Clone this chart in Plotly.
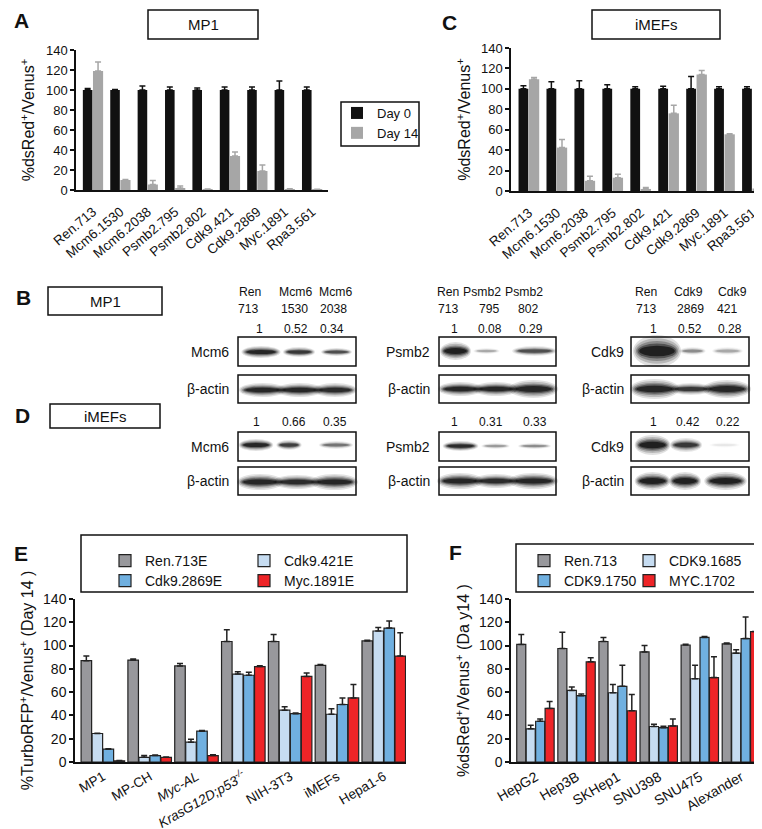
import plotly.graph_objects as go

W, H = 762, 829
def px(x): return x / W
def py(y): return 1 - y / H

# ---------------- data ----------------
a_labels = ["Ren.713", "Mcm6.1530", "Mcm6.2038", "Psmb2.795", "Psmb2.802",
            "Cdk9.421", "Cdk9.2869", "Myc.1891", "Rpa3.561"]
a_day0 = [100, 100, 100, 100, 100, 100, 100, 100, 100]
a_day0_err = [1.5, 0.5, 4, 3, 2, 3, 3, 9, 3]
a_day14 = [119, 10, 5.5, 2, 0.8, 34, 19, 1, 0.5]
a_day14_err = [9, 0.5, 4, 2, 0.3, 4, 6, 0.3, 0.2]

c_labels = a_labels
c_day0 = [100, 100, 100, 100, 100, 100, 100, 100, 100]
c_day0_err = [3, 7, 8, 4, 2, 2.5, 12, 2, 2]
c_day14 = [109.5, 42.5, 10, 13, 2, 76, 114, 55.5, 2.5]
c_day14_err = [1.5, 8, 4.5, 3.5, 1.5, 8, 4, 0.5, 0.8]

e_groups = ["MP1", "MP-CH", "Myc-AL", "KrasG12D;p53-/-", "NIH-3T3", "iMEFs", "Hepa1-6"]
e_ticktext = ["MP1", "MP-CH", "<i>Myc-AL</i>", "<i>KrasG12D;p53<sup>-/-</sup></i>",
              "NIH-3T3", "iMEFs", "Hepa1-6"]
e_series = ["Ren.713E", "Cdk9.421E", "Cdk9.2869E", "Myc.1891E"]
e_ren = [87, 87.5, 82.5, 103.5, 103.5, 83, 104]
e_ren_err = [4, 1, 2, 10, 6, 0.8, 0.5]
e_421 = [24.5, 4, 17, 75.5, 44.5, 41, 112.5]
e_421_err = [0.3, 1.5, 2.5, 2, 3, 4.8, 3]
e_2869 = [11, 5.5, 26.5, 74.5, 41.5, 49.4, 115]
e_2869_err = [0.3, 0.5, 0.5, 2.5, 0.5, 5.5, 6]
e_myc = [1, 4, 5.5, 82, 73.5, 55, 91]
e_myc_err = [0.2, 0.3, 0.8, 0.7, 3, 11.5, 20]

f_groups = ["HepG2", "Hep3B", "SKHep1", "SNU398", "SNU475", "Alexander"]
f_series = ["Ren.713", "CDK9.1685", "CDK9.1750", "MYC.1702"]
f_ren = [101, 97.5, 103.5, 94.5, 100.5, 101.5]
f_ren_err = [8.5, 14, 3.5, 5.5, 0.7, 0.8]
f_1685 = [28.5, 61.5, 59.5, 30.5, 71.5, 93.5]
f_1685_err = [3, 3, 7, 2, 11.5, 3]
f_1750 = [35, 57, 65, 29.5, 107, 106]
f_1750_err = [2, 1.5, 18, 1.2, 0.8, 18.5]
f_1702 = [46, 86, 44, 31, 72.5, 112]
f_1702_err = [6, 3.5, 14, 6, 18, 0]

y_ticks = [0, 20, 40, 60, 80, 100, 120, 140]

# western blot annotations (text content)
b_headers = [
    (["Ren", "Mcm6", "Mcm6"], ["713", "1530", "2038"]),
    (["Ren", "Psmb2", "Psmb2"], ["713", "795", "802"]),
    (["Ren", "Cdk9", "Cdk9"], ["713", "2869", "421"]),
]
blot_targets = ["Mcm6", "Psmb2", "Cdk9"]
b_quant = [["1", "0.52", "0.34"], ["1", "0.08", "0.29"], ["1", "0.52", "0.28"]]
d_quant = [["1", "0.66", "0.35"], ["1", "0.31", "0.33"], ["1", "0.42", "0.22"]]

# ---------------- style ----------------
FONT = "Liberation Sans, Arial, Helvetica, sans-serif"
BLACK = "#111111"
GRAY14 = "#a6a6a6"
C_GRAY = "#98989c"
C_LB = "#c6dcf1"
C_B = "#70b0e0"
C_RED = "#ee2427"
EDGE = "#222222"

fig = go.Figure()

def err(arr, color):
    return dict(type="data", symmetric=False, array=arr, arrayminus=[0] * len(arr),
                color=color, thickness=1.5, width=3)

# Panels A and C
for (labels, d0, e0, d14, e14, xa, ya, show) in [
        (a_labels, a_day0, a_day0_err, a_day14, a_day14_err, "x", "y", True),
        (c_labels, c_day0, c_day0_err, c_day14, c_day14_err, "x2", "y2", False)]:
    fig.add_trace(go.Bar(x=labels, y=d0, name="Day 0", xaxis=xa, yaxis=ya,
                         width=0.35, offset=-0.37, marker=dict(color=BLACK, line=dict(width=0)),
                         error_y=err(e0, BLACK), showlegend=show, legend="legend"))
    fig.add_trace(go.Bar(x=labels, y=d14, name="Day 14", xaxis=xa, yaxis=ya,
                         width=0.37, offset=0.0, marker=dict(color=GRAY14, line=dict(width=0)),
                         error_y=err(e14, GRAY14), showlegend=show, legend="legend"))

# Panel E  (one legend per entry: legend2..legend5)
e_vals = [(e_ren, e_ren_err, C_GRAY), (e_421, e_421_err, C_LB),
          (e_2869, e_2869_err, C_B), (e_myc, e_myc_err, C_RED)]
offs = [-0.47, -0.235, 0.0, 0.235]
for i, (v, e, c) in enumerate(e_vals):
    fig.add_trace(go.Bar(x=e_groups, y=v, name=e_series[i], xaxis="x3", yaxis="y3",
                         width=0.225, offset=offs[i],
                         marker=dict(color=c, line=dict(color=EDGE, width=1.2)),
                         error_y=err(e, EDGE), legend="legend%d" % (2 + i)))

# Panel F  (legend6..legend9)
f_vals = [(f_ren, f_ren_err, C_GRAY), (f_1685, f_1685_err, C_LB),
          (f_1750, f_1750_err, C_B), (f_1702, f_1702_err, C_RED)]
offs_f = [-0.46, -0.23, 0.0, 0.23]
for i, (v, e, c) in enumerate(f_vals):
    fig.add_trace(go.Bar(x=f_groups, y=v, name=f_series[i], xaxis="x4", yaxis="y4",
                         width=0.22, offset=offs_f[i],
                         marker=dict(color=c, line=dict(color=EDGE, width=1.2)),
                         error_y=err(e, EDGE), legend="legend%d" % (6 + i)))

def yaxis(dom, anchor, title, size, tsize, standoff):
    return dict(domain=dom, anchor=anchor, range=[0, 140], tickvals=y_ticks,
                showline=True, linecolor=BLACK, linewidth=1.5, ticks="outside",
                ticklen=4, tickwidth=1.5, tickcolor=BLACK, showgrid=False, zeroline=False,
                tickfont=dict(size=size, color=BLACK), automargin=False,
                title=dict(text=title, font=dict(size=tsize, color=BLACK), standoff=standoff))

def xaxis(dom, anchor, rng, angle, size, lso, ticktext=None, cats=None):
    d = dict(domain=dom, anchor=anchor, range=rng, type="category",
             showline=True, linecolor=BLACK, linewidth=1.5, ticks="", showgrid=False,
             tickangle=angle, tickfont=dict(size=size, color=BLACK), automargin=False,
             ticklabelstandoff=lso)
    if ticktext is not None:
        d["tickvals"] = cats
        d["ticktext"] = ticktext
    return d

def leg(x, y, size=14):
    return dict(x=px(x), y=py(y), xanchor="left", yanchor="middle", orientation="h",
                font=dict(size=size, color=BLACK),
                bgcolor="rgba(0,0,0,0)", borderwidth=0, itemclick=False, itemdoubleclick=False)

ds = "%dsRed<sup>+</sup>/Venus<sup>+</sup>"
fig.update_layout(
    xaxis=xaxis([px(68), px(320)], "y", [-0.62, 8.58], -40, 13.5, 7),
    yaxis=yaxis([py(182), py(42)], "x", ds, 13, 16, 7),
    xaxis2=xaxis([px(503), px(757)], "y2", [-0.64, 8.45], -40, 13.5, 7),
    yaxis2=yaxis([py(183), py(40)], "x2", ds, 13, 16, 6),
    xaxis3=xaxis([px(67), px(398)], "y3", [-0.6, 6.47], -30, 13.5, 0, e_ticktext, e_groups),
    yaxis3=yaxis([py(754), py(591)], "x3",
                 "%TurboRFP<sup>+</sup>/Venus<sup>+</sup> (Day 14 )", 14, 16, 5),
    xaxis4=xaxis([px(503), px(752)], "y4", [-0.6, 5.46], -30, 14, 0),
    yaxis4=yaxis([py(754), py(591)], "x4",
                 "%dsRed<sup>+</sup>/Venus<sup>+</sup> (Da y14 )", 14, 16, 5),
    barmode="overlay",
    width=W, height=H, margin=dict(l=0, r=0, t=0, b=0, autoexpand=False),
    paper_bgcolor="white", plot_bgcolor="white",
    font=dict(family=FONT, color=BLACK, size=13),
    legend=dict(x=px(329), y=py(115), xanchor="left", yanchor="middle", orientation="v",
                font=dict(size=13, color=BLACK), bgcolor="rgba(0,0,0,0)", borderwidth=0,
                tracegroupgap=0, itemclick=False, itemdoubleclick=False),
    legend2=leg(97, 553), legend3=leg(236, 553),
    legend4=leg(97, 573), legend5=leg(236, 573),
    legend6=leg(516, 553), legend7=leg(621, 553),
    legend8=leg(516, 573), legend9=leg(621, 573),
)

shapes = []
anns = []

def rect(x0, y0, x1, y1, w=1.5):
    shapes.append(dict(type="rect", xref="paper", yref="paper", x0=px(x0), x1=px(x1),
                       y0=py(y1), y1=py(y0), line=dict(color=BLACK, width=w),
                       fillcolor="rgba(0,0,0,0)"))

def text(x, y, s, size=14, anchor="center", bold=False):
    if bold:
        s = "<b>" + s + "</b>"
    anns.append(dict(x=px(x), y=py(y), xref="paper", yref="paper", text=s, showarrow=False,
                     xanchor=anchor, yanchor="middle",
                     font=dict(size=size, family=FONT, color=BLACK)))

# title boxes
rect(140, 2, 250, 31); text(195, 17, "MP1", 15)
rect(584, 2, 712, 31); text(648, 17, "iMEFs", 15)
rect(40, 279, 154, 307); text(97, 293, "MP1", 15)
rect(42, 396, 152, 420); text(97, 408, "iMEFs", 15)
# legend boxes
rect(333, 94, 411, 138)
rect(73, 527, 399, 584)
rect(508, 536, 753, 584)

# panel letters
for (x, y, s) in [(4, 13, "A"), (432, 14, "C"), (6, 290, "B"), (5, 407, "D"),
                  (4, 545, "E"), (439, 544, "F")]:
    text(x, y, s, 21, "left", True)

# blot layout
box_x = [(230, 348), (431, 548), (623, 741)]
label_right = [223, 424, 618]
hdr1_x = [[242, 287, 327], [440, 474, 516], [638, 680, 724]]
hdr2_x = [[240, 286, 325], [440, 481, 520], [638, 682, 719]]
qb_x = [[251, 288, 324], [447, 482, 523], [645, 682, 722]]
qd_x = [[248, 286, 327], [446, 483, 527], [645, 680, 720]]
rows_b = [(329, 358), (367, 395)]
rows_d = [(424, 453), (459, 487)]

for p in range(3):
    for k in range(3):
        text(hdr1_x[p][k], 284, b_headers[p][0][k], 12.2)
        text(hdr2_x[p][k], 301, b_headers[p][1][k], 12.2)
        text(qb_x[p][k], 321, b_quant[p][k], 12)
        text(qd_x[p][k], 414, d_quant[p][k], 12)
    x0, x1 = box_x[p]
    for (r0, r1), lab in [(rows_b[0], blot_targets[p]), (rows_b[1], "β-actin"),
                          (rows_d[0], blot_targets[p]), (rows_d[1], "β-actin")]:
        rect(x0, r0, x1, r1, 1.5)
        text(label_right[p], (r0 + r1) / 2, lab, 14, "right")

# band appearance (decoration of blot images)
bands = [
    (344, [(236, 270, 6, 0.95), (277, 305, 5, 0.8), (315, 342, 4, 0.65)]),
    (382, [(234, 275, 7, 0.95), (271, 312, 7, 0.95), (308, 346, 7, 0.9)]),
    (343, [(434, 461, 9, 1.0), (467, 490, 3, 0.25), (507, 546, 5, 0.65)]),
    (381, [(433, 472, 7, 0.95), (468, 508, 7, 0.95), (504, 547, 9, 0.95)]),
    (343, [(628, 670, 16, 1.0), (673, 696, 4, 0.35), (706, 733, 4, 0.25)]),
    (381, [(625, 668, 10, 0.95), (664, 702, 6, 0.8), (698, 740, 9, 0.95)]),
    (437, [(233, 263, 6, 0.95), (270, 292, 5, 0.75), (313, 343, 4, 0.45)]),
    (474, [(232, 272, 8, 0.95), (268, 310, 7, 0.9), (306, 347, 8, 0.95)]),
    (438, [(437, 468, 5, 0.9), (475, 500, 3, 0.3), (512, 541, 3, 0.35)]),
    (473, [(432, 472, 8, 0.95), (468, 508, 7, 0.9), (504, 547, 8, 0.95)]),
    (437, [(629, 660, 10, 1.0), (664, 692, 7, 0.8), (703, 730, 3, 0.06)]),
    (473, [(629, 660, 9, 1.0), (663, 691, 9, 1.0), (699, 736, 9, 1.0)]),
]
layers = [(1.15, 2.0, 0.12), (1.08, 1.6, 0.18), (1.0, 1.25, 0.25), (0.93, 0.95, 0.4),
          (0.85, 0.65, 0.6)]
for yc, lst in bands:
    for (bx0, bx1, h, op) in lst:
        cx = (bx0 + bx1) / 2
        hw = (bx1 - bx0) / 2
        for (sw, sh, so) in layers:
            shapes.append(dict(type="circle", xref="paper", yref="paper",
                               x0=px(cx - hw * sw), x1=px(cx + hw * sw),
                               y0=py(yc + h * sh / 2), y1=py(yc - h * sh / 2),
                               line=dict(width=0), fillcolor="black",
                               opacity=min(1.0, op * so)))

fig.update_layout(shapes=shapes, annotations=anns)
fig.write_html("out.html")
